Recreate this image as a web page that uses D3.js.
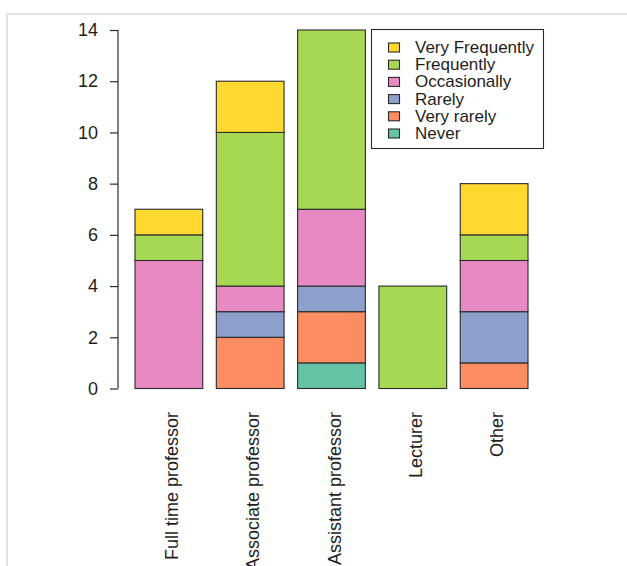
<!DOCTYPE html>
<html>
<head>
<meta charset="utf-8">
<script src="https://cdn.jsdelivr.net/npm/d3@7"></script>
<style>
  html, body { margin: 0; padding: 0; background: #fff; }
  svg { display: block; }
  text { font-family: "Liberation Sans", Arial, sans-serif; fill: #1e1e1e; }
</style>
</head>
<body>
<svg id="chart" width="627" height="566"></svg>
<script>
// Academic rank categories along the x axis
const categories = ["Full time professor", "Associate professor", "Assistant professor", "Lecturer", "Other"];

// Response frequencies, stacked bottom to top in this order
const responseLevels = ["Never", "Very rarely", "Rarely", "Occasionally", "Frequently", "Very Frequently"];

// Counts per category for each response level
const never          = [0, 0, 1, 0, 0];
const veryRarely     = [0, 2, 2, 0, 1];
const rarely         = [0, 1, 1, 0, 2];
const occasionally   = [5, 1, 3, 0, 2];
const frequently     = [1, 6, 7, 4, 1];
const veryFrequently = [1, 2, 0, 0, 2];

const yTicks = [0, 2, 4, 6, 8, 10, 12, 14];

// Brewer Set2 palette
const levelColors = {
  "Never": "#66C2A5",
  "Very rarely": "#FC8D62",
  "Rarely": "#8DA0CB",
  "Occasionally": "#E78AC3",
  "Frequently": "#A6D854",
  "Very Frequently": "#FFD92F"
};

const seriesByLevel = {
  "Never": never,
  "Very rarely": veryRarely,
  "Rarely": rarely,
  "Occasionally": occasionally,
  "Frequently": frequently,
  "Very Frequently": veryFrequently
};

const table = categories.map((c, i) => {
  const row = { category: c };
  responseLevels.forEach(k => { row[k] = seriesByLevel[k][i]; });
  return row;
});

const svg = d3.select("#chart");

// light outer frame
svg.append("rect")
  .attr("x", 7).attr("y", 14)
  .attr("width", 700).attr("height", 700)
  .attr("fill", "none")
  .attr("stroke", "#e2e2e2")
  .attr("stroke-width", 2);

const x = d3.scaleBand()
  .domain(categories)
  .range([135, 528])
  .paddingInner(0.2 / 1.2)
  .paddingOuter(0);

const y = d3.scaleLinear()
  .domain([0, 14])
  .range([388.5, 30]);

const stacked = d3.stack().keys(responseLevels)(table);

const layers = svg.append("g").selectAll("g")
  .data(stacked)
  .join("g")
  .attr("fill", d => levelColors[d.key]);

layers.selectAll("rect")
  .data(d => d.filter(s => s[1] - s[0] > 0))
  .join("rect")
  .attr("x", d => x(d.data.category))
  .attr("y", d => y(d[1]))
  .attr("width", x.bandwidth())
  .attr("height", d => y(d[0]) - y(d[1]))
  .attr("stroke", "#2a2a2a")
  .attr("stroke-width", 1.1);

// y axis in the base-graphics style: line spans the tick range, labels horizontal
const yAxis = d3.axisLeft(y)
  .tickValues(yTicks)
  .tickSize(8)
  .tickPadding(12)
  .tickSizeOuter(0);

const gy = svg.append("g")
  .attr("transform", "translate(118,0)")
  .call(yAxis);
gy.select(".domain")
  .attr("d", `M0,${y(0)}V${y(14)}`)
  .attr("stroke", "#2a2a2a")
  .attr("stroke-width", 1.2);
gy.selectAll(".tick line").attr("stroke", "#2a2a2a").attr("stroke-width", 1.2);
gy.selectAll(".tick text")
  .style("font-family", "'Liberation Sans', Arial, sans-serif")
  .style("font-size", "18px")
  .attr("fill", "#1e1e1e");

// rotated category labels
svg.append("g").selectAll("text")
  .data(categories)
  .join("text")
  .attr("transform", d => `translate(${x(d) + x.bandwidth() / 2 + 3},412) rotate(-90)`)
  .attr("text-anchor", "end")
  .attr("dominant-baseline", "central")
  .style("font-size", "18px")
  .text(d => d);

// legend, listed top level first
const legendItems = responseLevels.slice().reverse();
const legend = svg.append("g");
legend.append("rect")
  .attr("x", 371.5).attr("y", 29.5)
  .attr("width", 172).attr("height", 119)
  .attr("fill", "#fff")
  .attr("stroke", "#2a2a2a")
  .attr("stroke-width", 1.1);

const rowY = d3.scalePoint()
  .domain(legendItems)
  .range([47.5, 133.5]);

const entries = legend.selectAll("g.entry")
  .data(legendItems)
  .join("g")
  .attr("class", "entry")
  .attr("transform", d => `translate(0,${rowY(d)})`);

entries.append("rect")
  .attr("x", 388.5).attr("y", -4.5)
  .attr("width", 11).attr("height", 9)
  .attr("fill", d => levelColors[d])
  .attr("stroke", "#2a2a2a")
  .attr("stroke-width", 1.1);

entries.append("text")
  .attr("x", 415)
  .attr("y", 0)
  .attr("dominant-baseline", "central")
  .style("font-size", "17px")
  .text(d => d);
</script>
</body>
</html>
